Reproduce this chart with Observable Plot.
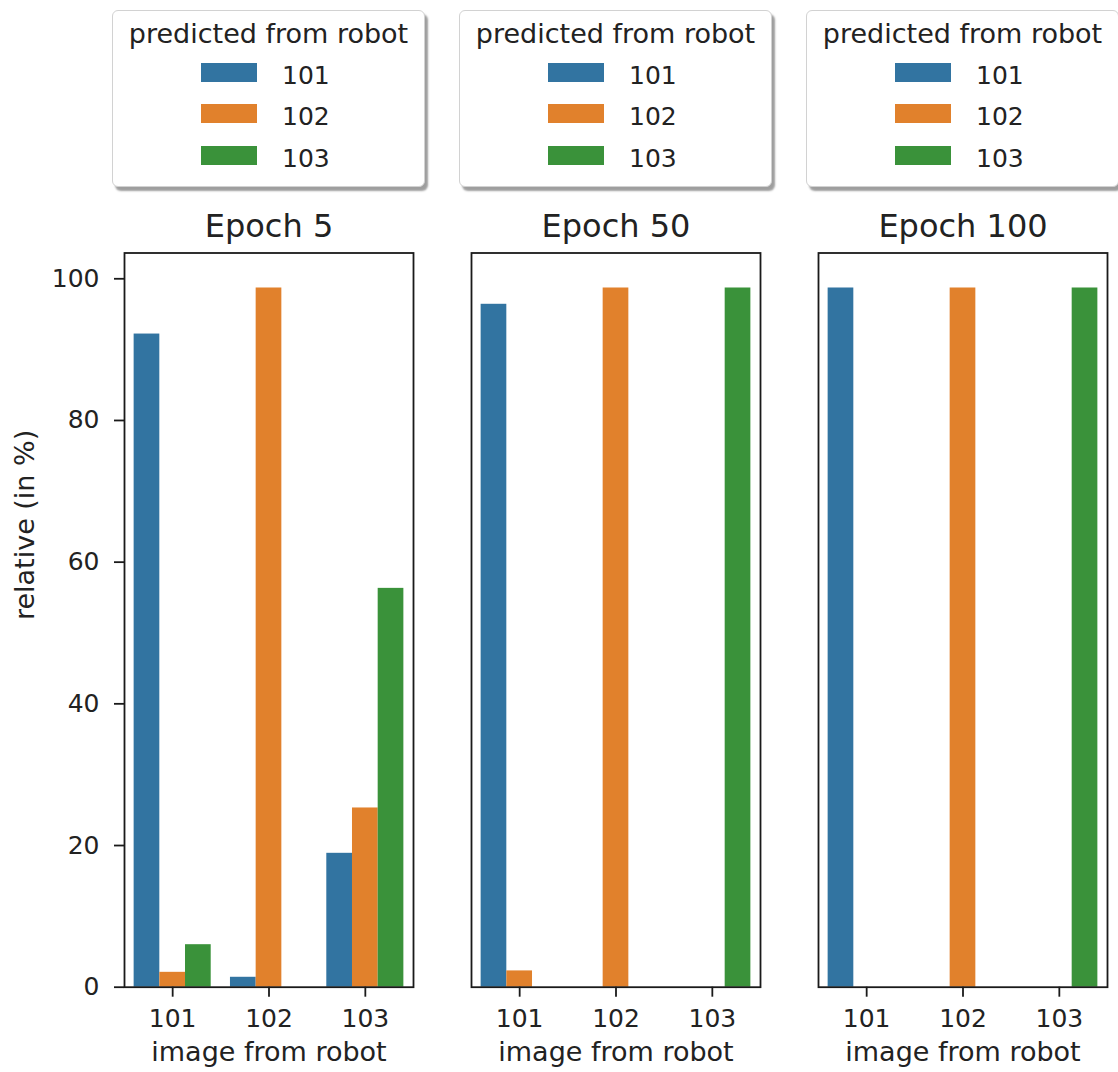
<!DOCTYPE html>
<html>
<head>
<meta charset="utf-8">
<script src="https://cdn.jsdelivr.net/npm/d3@7"></script>
<script src="https://cdn.jsdelivr.net/npm/@observablehq/plot@0.6"></script>
<style>
  html, body { margin: 0; padding: 0; background: #fff; }
  #chart { position: relative; width: 1118px; height: 1072px; font-family: "DejaVu Sans", sans-serif; color: #222; }
  #chart svg { position: absolute; left: 0; top: 0; }
  .legend {
    position: absolute; top: 10px; width: 313px; height: 177px; box-sizing: border-box;
    background: #fff; border: 1.5px solid #d2d2d2; border-radius: 6px;
    box-shadow: 3px 4px 2px rgba(0, 0, 0, 0.38); z-index: 2;
  }
  .legend .ttl { position: absolute; left: 0; right: 0; top: 9px; text-align: center; font-size: 27px; line-height: 27px; white-space: nowrap; }
  .legend .row { position: absolute; left: 88px; display: flex; align-items: flex-start; font-size: 25px; line-height: 25px; }
  .legend .sw { width: 56px; height: 19px; margin-right: 25px; }
</style>
</head>
<body>
<div id="chart"></div>
<script>
// Training snapshots shown as panels
const epochs = [5, 50, 100];
// Robot the image came from (x categories) and the predicted robot (bar colour)
const images = ["101", "102", "103"];
const predicted = ["101", "102", "103"];
const palette = ["#3274a1", "#e1812c", "#3a923a"];

// Relative share of predictions (in %): one row per image robot, one column per predicted robot
const epoch5 = [
  [92.2, 2.1, 6.0],
  [1.4, 98.7, 0],
  [18.9, 25.3, 56.3]
];
const epoch50 = [
  [96.4, 2.3, 0],
  [0, 98.7, 0],
  [0, 0, 98.7]
];
const epoch100 = [
  [98.7, 0, 0],
  [0, 98.7, 0],
  [0, 0, 98.7]
];
const yTicks = [0, 20, 40, 60, 80, 100];

// Long-format table built from the arrays above
const shares = [epoch5, epoch50, epoch100];
const rows = [];
epochs.forEach((epoch, e) => {
  images.forEach((image, i) => {
    predicted.forEach((pred, k) => {
      const value = shares[e][i][k];
      if (value > 0) rows.push({epoch, image, imageIndex: i, pred, predIndex: k, value});
    });
  });
});

// Dodged bars: each image group takes 80% of its slot, split evenly among predicted robots
const groupWidth = 0.8;
const barWidth = groupWidth / predicted.length;
const x1 = d => d.imageIndex - groupWidth / 2 + d.predIndex * barWidth;
const x2 = d => x1(d) + barWidth;

const W = 1118, H = 1072;
const plot = Plot.plot({
  width: W,
  height: H,
  marginTop: 252.5,
  marginBottom: 85.3,
  marginLeft: 123.3,
  marginRight: 11.3,
  style: {fontFamily: "DejaVu Sans, sans-serif", fontSize: "25px", color: "#222", background: "transparent"},
  fx: {domain: epochs, paddingInner: 0.1676, paddingOuter: 0, axis: null, label: null},
  x: {domain: [-0.5, images.length - 0.5], axis: null},
  y: {domain: [0, 103.64], axis: null},
  color: {type: "ordinal", domain: predicted, range: palette},
  marks: [
    Plot.rect(rows, {fx: "epoch", x1, x2, y1: () => 0, y2: "value", fill: "pred"}),
    Plot.frame({stroke: "#1a1a1a", strokeWidth: 1.8}),
    Plot.axisY({ticks: yTicks, tickSize: 10, tickPadding: 15, strokeWidth: 1.8, stroke: "#1a1a1a", fontSize: 25, label: null}),
    Plot.axisX({ticks: images.map((_, i) => i), tickFormat: i => images[i], tickSize: 10, tickPadding: 11.6,
      strokeWidth: 1.8, stroke: "#1a1a1a", fontSize: 25, label: null}),
    // panel titles
    Plot.text(epochs, {fx: d => d, text: d => `Epoch ${d}`, frameAnchor: "top", lineAnchor: "bottom", dy: -16.3, fontSize: 32, fill: "#222"}),
    // x-axis title under every panel
    Plot.text(epochs, {fx: d => d, text: () => "image from robot", frameAnchor: "bottom", lineAnchor: "bottom", dy: 73.3, fontSize: 27, fill: "#222"}),
    // shared y-axis title on the first panel
    Plot.text(["relative (in %)"], {fx: () => epochs[0], frameAnchor: "left", rotate: -90, lineAnchor: "bottom", dx: -90.3, fontSize: 27, fill: "#222"})
  ]
});

const chart = document.getElementById("chart");
chart.appendChild(plot);

// One legend box above each panel, coloured through the plot's colour scale
const fx = plot.scale("fx");
const color = plot.scale("color");
const colorOf = v => (color && typeof color.apply === "function") ? color.apply(v) : palette[predicted.indexOf(v)];
const panelLeft = e => {
  if (fx && typeof fx.apply === "function") return fx.apply(e);
  const step = (W - 123.3 - 11.3) / (epochs.length - 0.1676);
  return 123.3 + epochs.indexOf(e) * step;
};
const bandwidth = fx && fx.bandwidth ? fx.bandwidth : (W - 123.3 - 11.3) / (epochs.length - 0.1676) * (1 - 0.1676);

epochs.forEach(e => {
  const box = document.createElement("div");
  box.className = "legend";
  const cx = panelLeft(e) + bandwidth / 2;
  box.style.left = `${cx - 313 / 2}px`;
  const ttl = document.createElement("div");
  ttl.className = "ttl";
  ttl.textContent = "predicted from robot";
  box.appendChild(ttl);
  predicted.forEach((p, k) => {
    const row = document.createElement("div");
    row.className = "row";
    row.style.top = `${51.8 + k * 41.6}px`;
    const sw = document.createElement("div");
    sw.className = "sw";
    sw.style.background = colorOf(p);
    const lab = document.createElement("span");
    lab.textContent = p;
    row.appendChild(sw);
    row.appendChild(lab);
    box.appendChild(row);
  });
  chart.appendChild(box);
});
</script>
</body>
</html>
